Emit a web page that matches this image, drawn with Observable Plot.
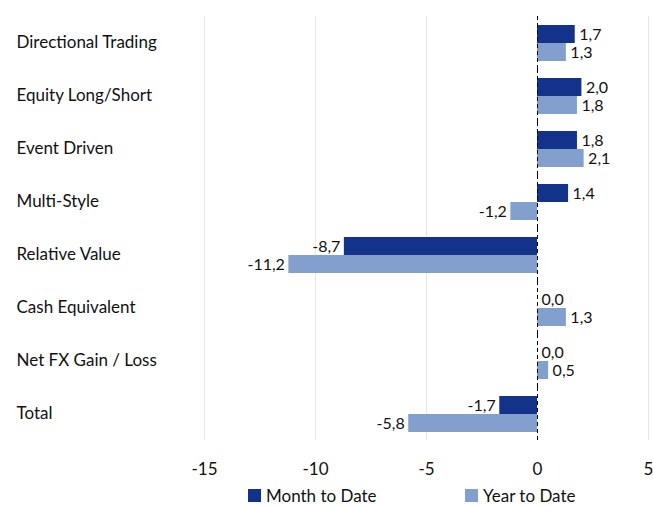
<!DOCTYPE html>
<html>
<head>
<meta charset="utf-8">
<script src="https://cdn.jsdelivr.net/npm/d3@7"></script>
<script src="https://cdn.jsdelivr.net/npm/@observablehq/plot@0.6"></script>
<style>
  html, body { margin: 0; padding: 0; background: #fff; }
  #chart { width: 653px; font-family: Lato, sans-serif; }
  .legend { display: flex; height: 22px; align-items: center; font-size: 17px; color: #111; position: relative; }
  .legend .item { position: absolute; display: flex; align-items: center; }
  .legend .sw { width: 13px; height: 13px; margin-right: 5px; }
</style>
</head>
<body>
<div id="chart"></div>
<script>
const categories = ["Directional Trading", "Equity Long/Short", "Event Driven", "Multi-Style", "Relative Value", "Cash Equivalent", "Net FX Gain / Loss", "Total"];
const series = ["Month to Date", "Year to Date"];
const monthToDate = [1.7, 2.0, 1.8, 1.4, -8.7, 0.0, 0.0, -1.7];
const yearToDate = [1.3, 1.8, 2.1, -1.2, -11.2, 1.3, 0.5, -5.8];
const xTicks = [-15, -10, -5, 0, 5];
const colors = ["#13338a", "#839fcd"];

const data = [];
categories.forEach((c, i) => {
  data.push({cat: c, series: series[0], value: monthToDate[i]});
  data.push({cat: c, series: series[1], value: yearToDate[i]});
});
const fmt = v => v.toFixed(1).replace(".", ",");

const chart = Plot.plot({
  width: 653,
  height: 484,
  marginLeft: 204,
  marginRight: 5,
  marginTop: 15,
  marginBottom: 44,
  style: {fontFamily: "Lato, sans-serif", fontSize: "17px", color: "#111"},
  x: {domain: [-15, 5], ticks: xTicks, tickFormat: d => String(d).replace("−", "-"), tickSize: 0, tickPadding: 22, label: null},
  fy: {domain: categories, padding: 0, axis: null, label: null},
  y: {domain: series, paddingInner: 0, paddingOuter: 0.4, axis: null},
  color: {domain: series, range: colors},
  marks: [
    Plot.ruleX([-15, -10, -5, 5], {stroke: "#e6e6e6", strokeWidth: 1}),
    Plot.barX(data, {fy: "cat", y: "series", x: "value", fill: "series"}),
    Plot.ruleX([0], {stroke: "#000", strokeDasharray: "4,3", strokeWidth: 1}),
    Plot.text(categories, {fy: d => d, text: d => d, frameAnchor: "left", textAnchor: "start", dx: 16 - 204}),
    Plot.text(data.filter(d => d.value >= 0), {fy: "cat", y: "series", x: "value", text: d => fmt(d.value), textAnchor: "start", dx: 4, fontSize: 16}),
    Plot.text(data.filter(d => d.value < 0), {fy: "cat", y: "series", x: "value", text: d => fmt(d.value), textAnchor: "end", dx: -4, fontSize: 16})
  ]
});
document.getElementById("chart").appendChild(chart);

const legend = document.createElement("div");
legend.className = "legend";
const pos = [248, 465];
series.forEach((s, i) => {
  const it = document.createElement("div");
  it.className = "item";
  it.style.left = pos[i] + "px";
  it.innerHTML = `<span class="sw" style="background:${colors[i]}"></span><span>${s}</span>`;
  legend.appendChild(it);
});
document.getElementById("chart").appendChild(legend);
</script>
</body>
</html>
